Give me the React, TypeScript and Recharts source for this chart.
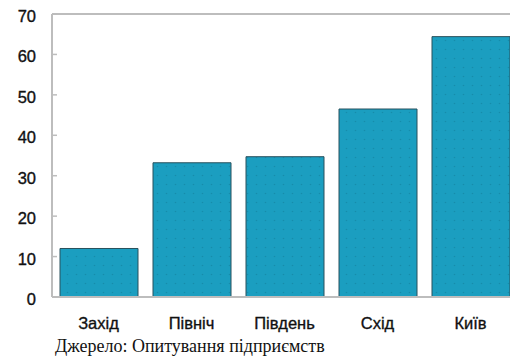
import React from "react";
import { BarChart, Bar, XAxis, YAxis, ReferenceLine } from "recharts";

// Regions and their survey values
const regions = ["Захід", "Північ", "Південь", "Схід", "Київ"];
const values = [12, 33.2, 34.7, 46.5, 64.4];
const yTicks = [0, 10, 20, 30, 40, 50, 60, 70];
const bandEdges = [1, 2, 3, 4];
const sourceNote = "Джерело: Опитування підприємств";

const data = regions.map((region, i) => ({ region, value: values[i] }));

const AXIS_GREY = "#bdbdbd";
const LABEL_FONT = "'Liberation Sans', Arial, Helvetica, sans-serif";

const YTick = (props: any) => {
  const { x, y, payload } = props;
  return (
    <g>
      <line x1={x + 16} x2={x + 21} y1={y} y2={y} stroke={AXIS_GREY} strokeWidth={1.5} />
      <text
        x={x}
        y={y}
        dy={8}
        textAnchor="end"
        fontFamily={LABEL_FONT}
        fontSize={16.5}
        fill="#111"
        stroke="#111"
        strokeWidth={0.35}
      >
        {payload.value}
      </text>
    </g>
  );
};

const XTick = (props: any) => {
  const { x, y, payload } = props;
  return (
    <text
      x={x}
      y={y + 30}
      textAnchor="middle"
      fontFamily={LABEL_FONT}
      fontSize={16.5}
      fill="#111"
      stroke="#111"
      strokeWidth={0.35}
    >
      {payload.value}
    </text>
  );
};

export default function App() {
  return (
    <div
      style={{
        position: "fixed",
        left: 0,
        top: 0,
        width: 510,
        height: 360,
        overflow: "hidden",
        background: "#fff",
      }}
    >
      <svg width={0} height={0} style={{ position: "absolute" }}>
        <defs>
          <pattern id="dots" patternUnits="userSpaceOnUse" width={9} height={9}>
            <rect width={9} height={9} fill="#1b9ec0" />
            <circle cx={4.5} cy={4.5} r={0.8} fill="#12809c" opacity={0.6} />
          </pattern>
        </defs>
      </svg>
      <BarChart
        width={522}
        height={340}
        data={data}
        margin={{ top: 14, right: 5, left: 0, bottom: 0 }}
      >
        <XAxis
          xAxisId="bands"
          type="number"
          domain={[0, 5]}
          ticks={bandEdges}
          height={0}
          mirror
          tick={false}
          axisLine={false}
          tickLine={{ stroke: AXIS_GREY, strokeWidth: 1.5 }}
          tickSize={4}
        />
        <XAxis
          dataKey="region"
          height={43}
          axisLine={{ stroke: AXIS_GREY, strokeWidth: 2 }}
          tickLine={false}
          tickSize={0}
          tick={<XTick />}
          interval={0}
        />
        <YAxis
          width={52}
          domain={[0, 70]}
          ticks={yTicks}
          axisLine={{ stroke: AXIS_GREY, strokeWidth: 2 }}
          tickLine={false}
          tickSize={0}
          tickMargin={16}
          tick={<YTick />}
          interval={0}
        />
        <ReferenceLine y={70} stroke={AXIS_GREY} strokeWidth={2} />
        <Bar
          dataKey="value"
          fill="url(#dots)"
          stroke="#28505c"
          strokeWidth={1}
          barSize={78}
          isAnimationActive={false}
        />
      </BarChart>
      <div
        style={{
          position: "absolute",
          left: 55,
          top: 337,
          fontFamily: "'Liberation Serif', 'Times New Roman', serif",
          fontSize: 18,
          lineHeight: "18px",
          color: "#111",
          whiteSpace: "nowrap",
        }}
      >
        {sourceNote}
      </div>
    </div>
  );
}
